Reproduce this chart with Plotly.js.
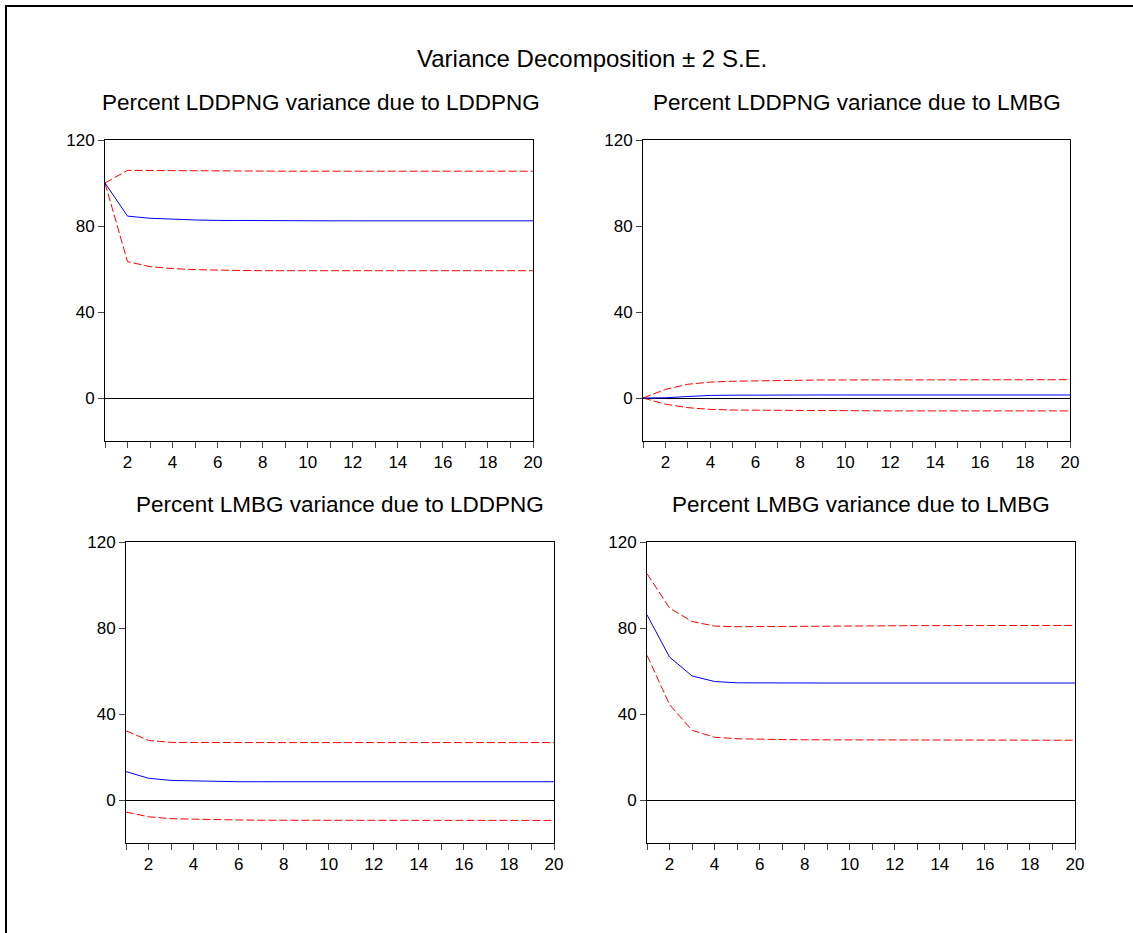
<!DOCTYPE html>
<html><head><meta charset="utf-8">
<script src="https://cdn.plot.ly/plotly-3.0.1.min.js"></script>
<style>body{margin:0;padding:0;background:#fff}#chart{width:1133px;height:933px}</style>
</head><body><div id="chart"></div>
<script>
const periods = [1,2,3,4,5,6,7,8,9,10,11,12,13,14,15,16,17,18,19,20];

// Panel 1: Percent LDDPNG variance due to LDDPNG
const p1_mid = [100,84.6,83.6,83.1,82.8,82.6,82.5,82.5,82.4,82.4,82.4,82.4,82.4,82.4,82.4,82.4,82.4,82.4,82.4,82.4];
const p1_up  = [100,105.9,105.8,105.7,105.6,105.5,105.5,105.5,105.5,105.5,105.5,105.5,105.5,105.5,105.5,105.5,105.5,105.5,105.5,105.5];
const p1_lo  = [100,63.4,61.1,60.2,59.7,59.4,59.3,59.2,59.2,59.2,59.2,59.2,59.2,59.2,59.2,59.2,59.2,59.2,59.2,59.2];

// Panel 2: Percent LDDPNG variance due to LMBG
const p2_mid = [0,0.1,0.7,1.2,1.3,1.4,1.4,1.4,1.4,1.4,1.4,1.4,1.4,1.4,1.4,1.4,1.4,1.4,1.4,1.4];
const p2_up  = [0,4.0,6.4,7.4,7.8,8.0,8.2,8.3,8.4,8.4,8.4,8.5,8.5,8.5,8.5,8.5,8.5,8.5,8.5,8.5];
const p2_lo  = [0,-2.9,-4.5,-5.3,-5.6,-5.7,-5.8,-5.9,-5.9,-6.0,-6.0,-6.0,-6.0,-6.0,-6.0,-6.0,-6.0,-6.0,-6.0,-6.0];

// Panel 3: Percent LMBG variance due to LDDPNG
const p3_mid = [13.2,10.1,9.1,8.8,8.6,8.5,8.5,8.5,8.5,8.5,8.5,8.5,8.5,8.5,8.5,8.5,8.5,8.5,8.5,8.5];
const p3_up  = [32.2,27.7,26.8,26.7,26.7,26.7,26.7,26.7,26.7,26.7,26.7,26.7,26.7,26.7,26.7,26.7,26.7,26.7,26.7,26.7];
const p3_lo  = [-5.6,-7.8,-8.7,-9.0,-9.2,-9.3,-9.4,-9.4,-9.4,-9.5,-9.5,-9.5,-9.5,-9.5,-9.5,-9.5,-9.5,-9.5,-9.5,-9.5];

// Panel 4: Percent LMBG variance due to LMBG
const p4_mid = [86.1,66.5,57.7,55.1,54.5,54.4,54.4,54.4,54.4,54.4,54.4,54.4,54.4,54.4,54.4,54.4,54.4,54.4,54.4,54.4];
const p4_up  = [105.3,89.3,83.0,80.9,80.6,80.7,80.8,80.9,81.0,81.0,81.0,81.1,81.1,81.1,81.1,81.1,81.1,81.1,81.1,81.2];
const p4_lo  = [67.3,44.4,32.4,29.2,28.5,28.2,28.1,28.0,28.0,27.9,27.9,27.9,27.9,27.9,27.9,27.9,27.9,27.8,27.8,27.8];

const mainTitle = "Variance Decomposition ± 2 S.E.";
const panelTitles = [
  "Percent LDDPNG variance due to LDDPNG",
  "Percent LDDPNG variance due to LMBG",
  "Percent LMBG variance due to LDDPNG",
  "Percent LMBG variance due to LMBG"
];
const yTicks = [0,40,80,120];

const W = 1133, H = 933;
// plot boxes in pixels [left, right, top, bottom]
const boxes = [
  [105,533,140,441],
  [643,1070,140,441],
  [126,554,542,843],
  [647,1075,542,843]
];
const titlePos = [[321,102],[857,102],[340,504],[861,504]];

const series = [[p1_mid,p1_up,p1_lo],[p2_mid,p2_up,p2_lo],[p3_mid,p3_up,p3_lo],[p4_mid,p4_up,p4_lo]];
const font = "Arial, 'Liberation Sans', sans-serif";

const traces = [];
const layout = {
  width: W, height: H,
  margin: {l:0,r:0,t:0,b:0},
  paper_bgcolor: "#fff", plot_bgcolor: "#fff",
  showlegend: false,
  font: {family: font, color: "#000", size: 17},
  annotations: [], shapes: []
};

series.forEach((s, i) => {
  const n = i + 1;
  const xa = n === 1 ? "x" : "x" + n, ya = n === 1 ? "y" : "y" + n;
  const b = boxes[i];
  traces.push({x: periods, y: s[1], xaxis: xa, yaxis: ya, mode: "lines", line: {color: "#ff0000", width: 1, dash: "8px,3px"}, hoverinfo: "skip"});
  traces.push({x: periods, y: s[2], xaxis: xa, yaxis: ya, mode: "lines", line: {color: "#ff0000", width: 1, dash: "8px,3px"}, hoverinfo: "skip"});
  traces.push({x: periods, y: s[0], xaxis: xa, yaxis: ya, mode: "lines", line: {color: "#0000ff", width: 1}, hoverinfo: "skip"});
  layout["xaxis" + (n === 1 ? "" : n)] = {
    domain: [b[0]/W, b[1]/W], anchor: ya, range: [1,20],
    tickmode: "linear", tick0: 2, dtick: 2, ticks: "outside", ticklen: 6, tickwidth: 1, tickcolor: "#444",
    minor: {dtick: 1, tick0: 1, ticks: "outside", ticklen: 6, tickwidth: 1, tickcolor: "#444"},
    showline: true, linecolor: "#000", linewidth: 1, mirror: true,
    showgrid: false, zeroline: false, tickfont: {size: 17, color: "#000", family: font}, fixedrange: true
  };
  layout["yaxis" + (n === 1 ? "" : n)] = {
    domain: [1 - b[3]/H, 1 - b[2]/H], anchor: xa, range: [-20,120],
    tickmode: "array", tickvals: yTicks, ticktext: yTicks.map(String),
    ticks: "outside", ticklen: 6, tickwidth: 1, tickcolor: "#444",
    showline: true, linecolor: "#000", linewidth: 1, mirror: true,
    showgrid: false, zeroline: true, zerolinecolor: "#000", zerolinewidth: 1,
    tickfont: {size: 17, color: "#000", family: font}, fixedrange: true
  };
  layout.annotations.push({
    text: panelTitles[i], xref: "paper", yref: "paper",
    x: titlePos[i][0]/W, y: 1 - titlePos[i][1]/H, xanchor: "center", yanchor: "middle",
    showarrow: false, font: {size: 22.5, color: "#000", family: font}
  });
});

layout.annotations.push({
  text: mainTitle, xref: "paper", yref: "paper", x: 592/W, y: 1 - 59/H,
  xanchor: "center", yanchor: "middle", showarrow: false, font: {size: 24, color: "#000", family: font}
});
layout.shapes.push({
  type: "rect", xref: "paper", yref: "paper", x0: 6/W, x1: 1.05, y0: -0.05, y1: 1 - 6/H,
  line: {color: "#000", width: 2}, fillcolor: "rgba(0,0,0,0)"
});

Plotly.newPlot("chart", traces, layout, {displayModeBar: false, staticPlot: true});
</script></body></html>
